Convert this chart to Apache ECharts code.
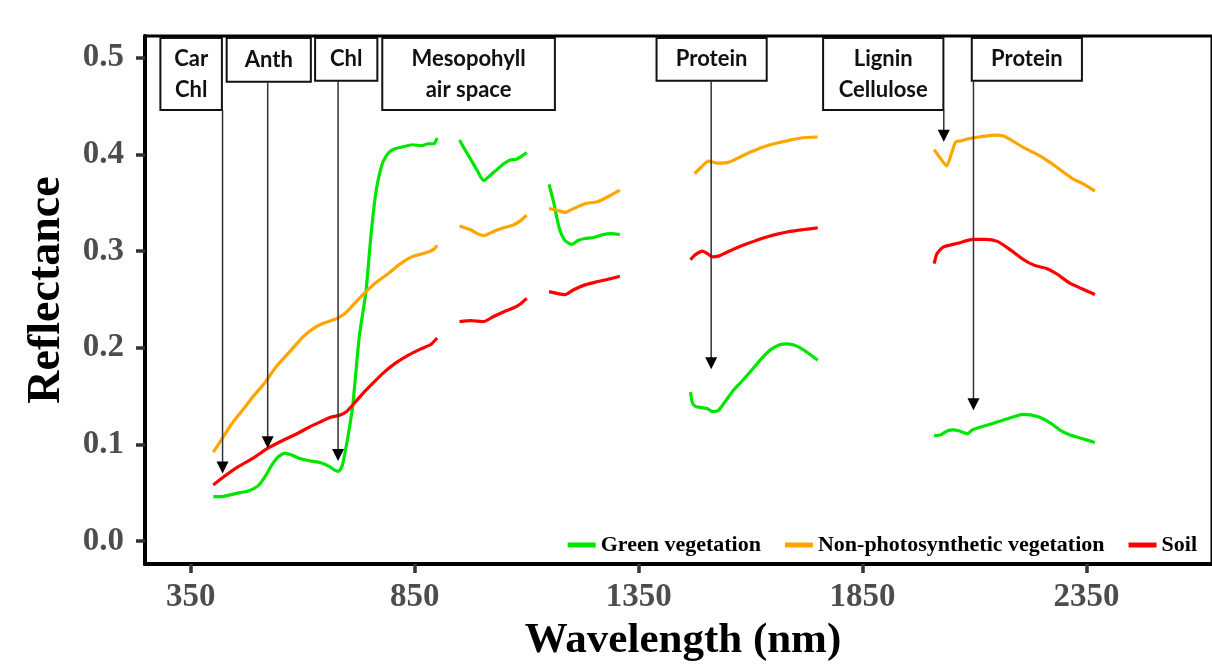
<!DOCTYPE html>
<html>
<head>
<meta charset="utf-8">
<script src="https://cdn.jsdelivr.net/npm/echarts@6/dist/echarts.min.js"></script>
<style>
  html, body { margin: 0; background: #fff; }
  #chart { width: 1212px; height: 664px; }
</style>
</head>
<body>
<div id="chart"></div>
<script>
// wavelength (nm), reflectance pairs, one array per spectral window
var greenVis = [[400,.046],[420,.046],[440,.048],[460,.050],[480,.052],[500,.057],[515,.066],[530,.078],[545,.087],[560,.091],[575,.089],[595,.085],[615,.083],[640,.081],[660,.077],[672,.073],[680,.072],[688,.078],[694,.091],[701,.108],[712,.142],[726,.211],[741,.258],[752,.315],[763,.360],[778,.391],[792,.402],[807,.406],[825,.408],[845,.410],[865,.409],[880,.411],[893,.411],[900,.417]];
var greenNir1 = [[950,.415],[962,.405],[975,.395],[990,.383],[1004,.373],[1018,.378],[1033,.384],[1048,.390],[1062,.394],[1077,.395],[1088,.398],[1100,.402]];
var greenNir2 = [[1150,.369],[1161,.349],[1172,.325],[1185,.311],[1201,.307],[1215,.311],[1230,.313],[1250,.314],[1270,.317],[1289,.318],[1308,.317]];
var greenSwir1 = [[1466,.154],[1470,.143],[1478,.139],[1490,.138],[1503,.137],[1515,.134],[1528,.135],[1543,.144],[1560,.155],[1580,.165],[1603,.177],[1625,.189],[1645,.198],[1665,.203],[1680,.204],[1695,.203],[1710,.200],[1730,.194],[1750,.187]];
var greenSwir2 = [[2010,.109],[2025,.110],[2040,.114],[2052,.115],[2065,.114],[2085,.111],[2095,.115],[2107,.117],[2137,.121],[2170,.126],[2209,.131],[2239,.129],[2270,.122],[2290,.115],[2312,.110],[2340,.106],[2369,.102]];

var npvVis = [[400,.092],[420,.106],[441,.121],[470,.138],[490,.150],[514,.163],[540,.180],[573,.197],[600,.211],[624,.220],[650,.226],[675,.230],[690,.234],[704,.240],[720,.248],[741,.258],[765,.268],[792,.277],[815,.286],[843,.294],[865,.297],[880,.299],[893,.302],[900,.306]];
var npvNir1 = [[950,.326],[975,.322],[990,.318],[1004,.316],[1025,.320],[1048,.324],[1070,.327],[1085,.331],[1100,.337]];
var npvNir2 = [[1150,.344],[1170,.342],[1186,.340],[1205,.344],[1230,.349],[1258,.351],[1285,.357],[1308,.363]];
var npvSwir1 = [[1475,.380],[1490,.387],[1506,.393],[1525,.391],[1552,.392],[1575,.397],[1603,.403],[1630,.408],[1662,.412],[1690,.415],[1713,.417],[1750,.418]];
var npvSwir2 = [[2010,.405],[2024,.396],[2038,.388],[2048,.400],[2058,.413],[2070,.414],[2085,.416],[2110,.418],[2144,.420],[2165,.419],[2185,.414],[2210,.407],[2240,.400],[2268,.392],[2295,.383],[2319,.375],[2345,.369],[2369,.362]];

var soilVis = [[400,.058],[425,.067],[456,.077],[490,.086],[522,.096],[555,.104],[587,.111],[615,.118],[638,.123],[662,.128],[682,.130],[698,.134],[712,.141],[733,.152],[756,.163],[780,.174],[807,.184],[835,.192],[865,.199],[885,.203],[900,.210]];
var soilNir1 = [[950,.227],[975,.228],[1004,.227],[1025,.232],[1048,.237],[1070,.241],[1085,.245],[1100,.251]];
var soilNir2 = [[1150,.258],[1170,.256],[1186,.255],[1205,.260],[1230,.265],[1255,.268],[1275,.270],[1308,.274]];
var soilSwir1 = [[1466,.291],[1476,.296],[1493,.300],[1505,.297],[1515,.294],[1530,.295],[1548,.299],[1567,.303],[1595,.308],[1625,.313],[1655,.317],[1684,.320],[1715,.322],[1750,.324]];
var soilSwir2 = [[2010,.287],[2016,.297],[2030,.304],[2063,.308],[2096,.312],[2125,.312],[2151,.310],[2175,.303],[2210,.291],[2235,.285],[2261,.282],[2285,.276],[2312,.267],[2340,.261],[2369,.255]];

var seriesNames = ['Green vegetation', 'Non-photosynthetic vegetation', 'Soil'];
var seriesColors = ['#00e600', '#ffa500', '#ff0000'];

var xTicks = [350, 850, 1350, 1850, 2350];
var yTicks = [0, 0.1, 0.2, 0.3, 0.4, 0.5];

// absorption feature boxes: label, box from / to (nm), box bottom, arrow at (nm), arrow tip
var annLabels = ['Car\nChl', 'Anth', 'Chl', 'Mesopohyll\nair space', 'Protein', 'Lignin\nCellulose', 'Protein'];
var annBoxFrom = [282, 430, 627.5, 777.5, 1390, 1762, 2094];
var annBoxTo = [419.3, 618, 766.5, 1163, 1636, 2030.6, 2340];
var annBoxBottom = [0.446, 0.4752, 0.4762, 0.446, 0.4762, 0.446, 0.4762];
var annArrowAt = [420.8, 521.6, 678.8, null, 1512, 2031.5, 2097.8];
var annArrowTip = [0.0698, 0.096, 0.0828, null, 0.1777, 0.413, 0.1353];

var X_MIN = 247.6, X_MAX = 2630.5, Y_MIN = -0.0238, Y_MAX = 0.5225;

function joinSegments(segs) {
    var out = [];
    segs.forEach(function (s, i) {
        if (i) out.push([s[0][0] - 1, null]);
        out = out.concat(s);
    });
    return out;
}

var lineData = [
    joinSegments([greenVis, greenNir1, greenNir2, greenSwir1, greenSwir2]),
    joinSegments([npvVis, npvNir1, npvNir2, npvSwir1, npvSwir2]),
    joinSegments([soilVis, soilNir1, soilNir2, soilSwir1, soilSwir2])
];

var annData = annLabels.map(function (l, i) {
    return [annBoxFrom[i], annBoxTo[i], annBoxBottom[i], annArrowAt[i], annArrowTip[i]];
});

var serif = '"Liberation Serif", "Times New Roman", serif';

var chart = echarts.init(document.getElementById('chart'));
var series = seriesNames.map(function (name, i) {
    return {
        name: name,
        type: 'line',
        data: lineData[i],
        showSymbol: false,
        connectNulls: false,
        smooth: 0.2,
        color: seriesColors[i],
        lineStyle: { width: 3.2, color: seriesColors[i] },
        z: 3
    };
});

series.push({
    type: 'custom',
    name: 'annotations',
    data: annData,
    encode: { x: [0, 1, 3], y: [2, 4] },
    clip: false,
    z: 5,
    silent: true,
    renderItem: function (params, api) {
        var i = params.dataIndex;
        var x0 = api.value(0), x1 = api.value(1), yb = api.value(2);
        var ax = api.value(3), at = api.value(4);
        var top = api.coord([x0, Y_MAX])[1] + 2;
        var pA = api.coord([x0, yb]);
        var pB = api.coord([x1, yb]);
        var children = [{
            type: 'rect',
            shape: { x: pA[0], y: top, width: pB[0] - pA[0], height: pA[1] - top },
            style: { fill: '#fff', stroke: '#111', lineWidth: 2 }
        }, {
            type: 'text',
            x: (pA[0] + pB[0]) / 2,
            y: (top + pA[1]) / 2,
            style: {
                text: annLabels[i],
                fontFamily: 'Lato',
                fontWeight: 'bold',
                fontSize: 22,
                lineHeight: 31,
                align: 'center',
                verticalAlign: 'middle',
                fill: '#111'
            }
        }];
        if (!isNaN(ax) && ax != null) {
            var s = api.coord([ax, yb]);
            var t = api.coord([ax, at]);
            children.push({
                type: 'line',
                shape: { x1: s[0], y1: s[1], x2: t[0], y2: t[1] - 10 },
                style: { stroke: '#333', lineWidth: 1.5 }
            });
            children.push({
                type: 'polygon',
                shape: { points: [[t[0] - 6, t[1] - 12], [t[0] + 6, t[1] - 12], [t[0], t[1]]] },
                style: { fill: '#000' }
            });
        }
        return { type: 'group', children: children };
    }
});

chart.setOption({
    backgroundColor: '#fff',
    animation: false,
    grid: {
        left: 145,
        right: -20,
        top: 36,
        bottom: 100,
        show: true,
        borderColor: '#000',
        borderWidth: 3
    },
    legend: {
        data: seriesNames,
        right: 10,
        top: 529,
        icon: 'rect',
        itemWidth: 28,
        itemHeight: 5,
        itemGap: 24,
        textStyle: { fontFamily: serif, fontWeight: 'bold', fontSize: 22, color: '#000' }
    },
    xAxis: {
        type: 'value',
        min: X_MIN,
        max: X_MAX,
        splitLine: { show: false },
        axisLine: { show: true, onZero: false, lineStyle: { color: '#000', width: 4 } },
        axisTick: { show: true, customValues: xTicks, length: 9, lineStyle: { color: '#333', width: 3.5 } },
        axisLabel: {
            customValues: xTicks,
            margin: 17,
            formatter: function (v) { return String(v); },
            fontFamily: serif,
            fontWeight: 'bold',
            fontSize: 33,
            color: '#4d4d4d'
        }
    },
    yAxis: {
        type: 'value',
        min: Y_MIN,
        max: Y_MAX,
        splitLine: { show: false },
        axisLine: { show: true, onZero: false, lineStyle: { color: '#000', width: 4 } },
        axisTick: { show: true, customValues: yTicks, length: 9, lineStyle: { color: '#333', width: 3.5 } },
        axisLabel: {
            customValues: yTicks,
            margin: 21,
            formatter: function (v) { return v.toFixed(1); },
            fontFamily: serif,
            fontWeight: 'bold',
            fontSize: 33,
            color: '#4d4d4d'
        }
    },
    graphic: [{
        type: 'text',
        x: 683,
        y: 641,
        style: {
            text: 'Wavelength (nm)',
            fontFamily: serif, fontWeight: 'bold', fontSize: 43,
            align: 'center', verticalAlign: 'middle', fill: '#000'
        }
    }, {
        type: 'text',
        x: 47,
        y: 290,
        rotation: Math.PI / 2,
        style: {
            text: 'Reflectance',
            fontFamily: serif, fontWeight: 'bold', fontSize: 46,
            align: 'center', verticalAlign: 'middle', fill: '#000'
        }
    }],
    series: series
});
</script>
</body>
</html>
